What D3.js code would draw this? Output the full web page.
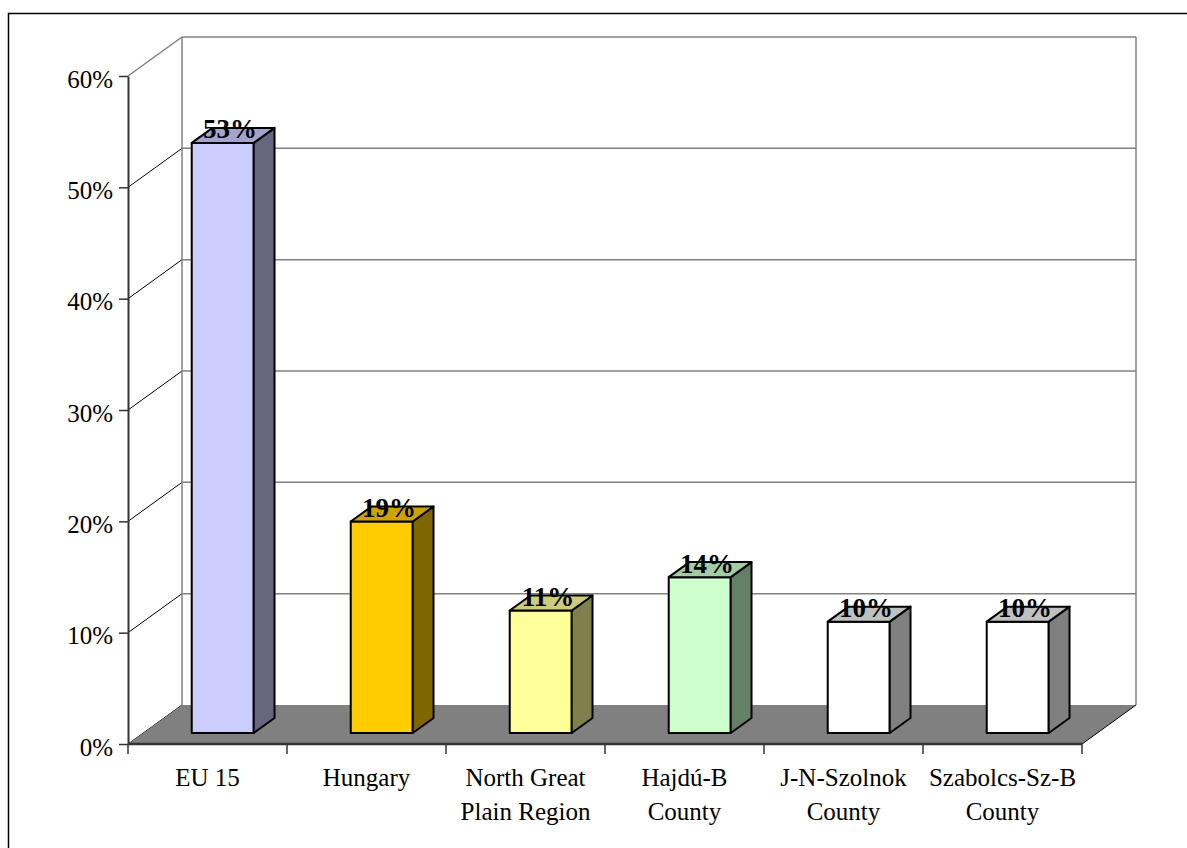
<!DOCTYPE html>
<html>
<head>
<meta charset="utf-8">
<title></title>
<style type="text/css">
    body{ margin:0; background:#fff; }
    svg text{ font-family:"Liberation Serif","Times New Roman",serif; fill:#000; }
</style>
</head>
<body>
<div id="chart"></div>

<script src="https://cdn.jsdelivr.net/npm/d3@7"></script>
<script type="text/javascript">

// chart values
var categories = ["EU 15", "Hungary", "North Great Plain Region", "Hajdú-B County", "J-N-Szolnok County", "Szabolcs-Sz-B County"];
var labelLines = [["EU 15"], ["Hungary"], ["North Great", "Plain Region"], ["Hajdú-B", "County"], ["J-N-Szolnok", "County"], ["Szabolcs-Sz-B", "County"]];
var values = [0.53, 0.19, 0.11, 0.14, 0.10, 0.10];
var yTicks = [0, 0.1, 0.2, 0.3, 0.4, 0.5, 0.6];

// face colours: front / side / top
var frontColors = ["#CCCCFF", "#FFCC00", "#FFFF99", "#CCFFCC", "#FFFFFF", "#FFFFFF"];
var sideColors  = ["#666680", "#806600", "#80804C", "#668066", "#808080", "#808080"];
var topColors   = ["#A3A3CC", "#CCA300", "#CCCC7A", "#A3CCA3", "#C0C0C0", "#C0C0C0"];

var width = 1187, height = 848;
var left = 128, right = 1082;
var DX = 54, DY = -39;          // depth offset of the back wall
var zFront = 0.282, zBack = 0.667; // depth of bar front / back faces
var barWidth = 62;

var y = d3.scaleLinear().domain([0, 0.6]).range([744, 76]);
var x = d3.scaleBand().domain(categories).range([left, right]);

// project a point at depth z (0 = front, 1 = back wall)
function proj(px, py, z){ return [px + z*DX, py + z*DY]; }
function pts(a){ return a.map(p => p.join(",")).join(" "); }

var svg = d3.select("#chart").append("svg")
    .attr("width", width)
    .attr("height", height);

// outer frame
svg.append("rect")
    .attr("x", 8.5).attr("y", 13.5)
    .attr("width", 1300).attr("height", 1000)
    .attr("fill", "none").attr("stroke", "#000").attr("stroke-width", 1.5);

/*-----------------------------------------------------------------------
    walls & gridlines
-----------------------------------------------------------------------*/
var walls = svg.append("g");

yTicks.forEach(function(t){
    var a = proj(left, y(t), 0), b = proj(left, y(t), 1), c = proj(right, y(t), 1);
    var top = t === d3.max(yTicks);
    walls.append("line")
        .attr("x1", a[0]).attr("y1", a[1]).attr("x2", b[0]).attr("y2", b[1])
        .attr("stroke", top ? "#808080" : "#000").attr("stroke-width", top ? 1.5 : 1);
    if (t > 0) {
        walls.append("line")
            .attr("x1", b[0]).attr("y1", b[1]).attr("x2", c[0]).attr("y2", c[1])
            .attr("stroke", "#808080").attr("stroke-width", 1.5);
    }
});

// back wall vertical edges
[left, right].forEach(function(px){
    var a = proj(px, y(0.6), 1), b = proj(px, y(0), 1);
    walls.append("line")
        .attr("x1", a[0]).attr("y1", a[1]).attr("x2", b[0]).attr("y2", b[1])
        .attr("stroke", "#808080").attr("stroke-width", 1.5);
});

// floor
walls.append("polygon")
    .attr("points", pts([proj(left, y(0), 0), proj(left, y(0), 1), proj(right, y(0), 1), proj(right, y(0), 0)]))
    .attr("fill", "#808080");
var fr0 = proj(right, y(0), 0), fr1 = proj(right, y(0), 1);
walls.append("line")
    .attr("x1", fr0[0]).attr("y1", fr0[1]).attr("x2", fr1[0]).attr("y2", fr1[1])
    .attr("stroke", "#000").attr("stroke-width", 1);

/*-----------------------------------------------------------------------
    axes
-----------------------------------------------------------------------*/
var yAxis = svg.append("g")
    .attr("transform", "translate(" + left + ",0)")
    .call(d3.axisLeft(y).tickValues(yTicks).tickFormat(d3.format(".0%")).tickSize(9).tickSizeOuter(0).tickPadding(6));
yAxis.select(".domain").attr("stroke", "#333").attr("stroke-width", 2);
yAxis.selectAll(".tick line").attr("stroke", "#333").attr("stroke-width", 1.5);
yAxis.selectAll(".tick text")
    .attr("font-family", "Liberation Serif, Times New Roman, serif")
    .attr("font-size", 25).attr("dy", "0.45em").attr("fill", "#000");

var xAxis = svg.append("g");
xAxis.append("line")
    .attr("x1", left).attr("x2", right).attr("y1", y(0)).attr("y2", y(0))
    .attr("stroke", "#333").attr("stroke-width", 2.5);
categories.concat([null]).forEach(function(c){
    var px = c === null ? right : x(c);
    xAxis.append("line")
        .attr("x1", px).attr("x2", px).attr("y1", y(0)).attr("y2", y(0) + 10)
        .attr("stroke", "#333").attr("stroke-width", 1.5);
});
categories.forEach(function(c, i){
    var t = xAxis.append("text")
        .attr("x", x(c) + x.bandwidth()/2)
        .attr("y", y(0) + 42)
        .attr("text-anchor", "middle")
        .attr("font-size", 25);
    labelLines[i].forEach(function(line, j){
        t.append("tspan").attr("x", x(c) + x.bandwidth()/2).attr("dy", j ? 34 : 0).text(line);
    });
});

/*-----------------------------------------------------------------------
    3D bars
-----------------------------------------------------------------------*/
var bars = svg.append("g").selectAll("g")
    .data(values)
    .enter()
    .append("g");

bars.each(function(v, i){
    var g = d3.select(this);
    var x0 = x(categories[i]) + (x.bandwidth() - barWidth)/2, x1 = x0 + barWidth;
    var yb = y(0), yt = y(v);
    var front = [proj(x0, yt, zFront), proj(x1, yt, zFront), proj(x1, yb, zFront), proj(x0, yb, zFront)];
    var side  = [proj(x1, yt, zFront), proj(x1, yt, zBack), proj(x1, yb, zBack), proj(x1, yb, zFront)];
    var top   = [proj(x0, yt, zFront), proj(x0, yt, zBack), proj(x1, yt, zBack), proj(x1, yt, zFront)];
    [[front, frontColors[i]], [side, sideColors[i]], [top, topColors[i]]].forEach(function(f){
        g.append("polygon")
            .attr("points", pts(f[0]))
            .attr("fill", f[1])
            .attr("stroke", "#000").attr("stroke-width", 2).attr("stroke-linejoin", "round");
    });
    var c = proj((x0 + x1)/2, yt, (zFront + zBack)/2);
    g.append("text")
        .attr("x", c[0] - 3).attr("y", c[1] + 3)
        .attr("text-anchor", "middle")
        .attr("font-size", 27).attr("font-weight", "bold")
        .text(d3.format(".0%")(v));
});

</script>
</body>
</html>
